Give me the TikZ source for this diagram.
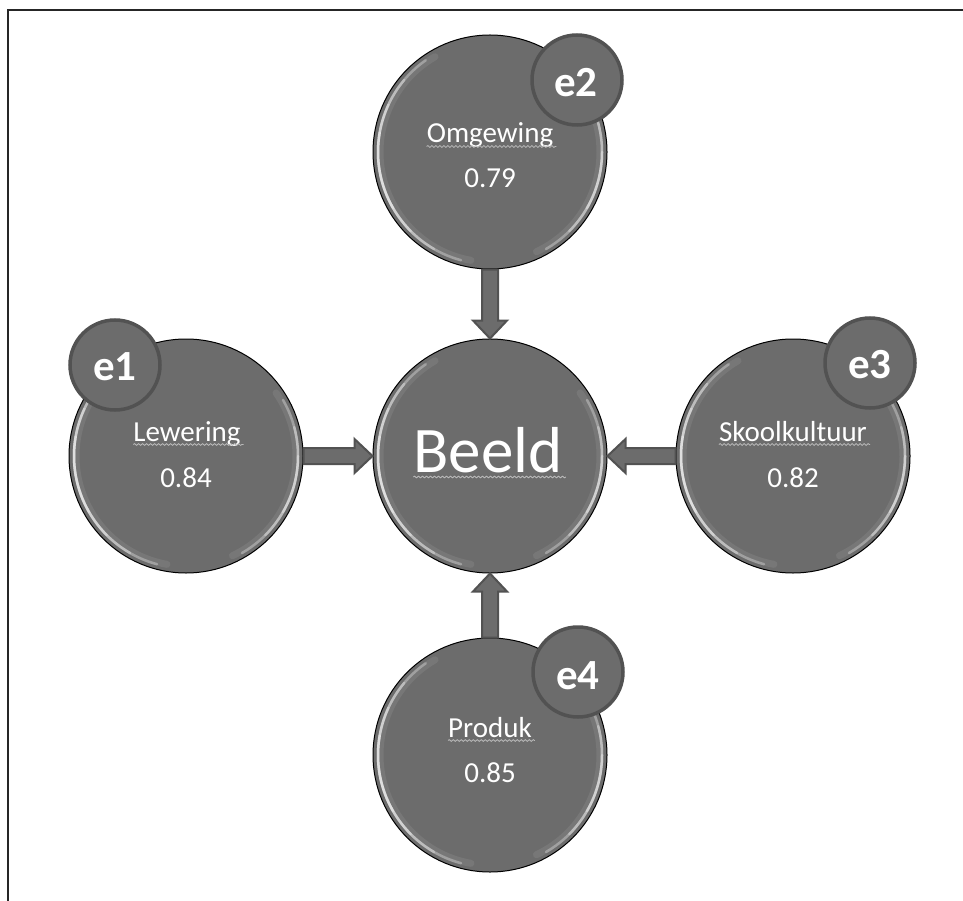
\documentclass[tikz,border=0pt]{standalone}
\usepackage{fontspec}
\setmainfont{Carlito}
\usetikzlibrary{calc,decorations.pathmorphing}
\definecolor{cfill}{RGB}{108,108,108}
\definecolor{cedge}{RGB}{82,82,82}
\definecolor{squig}{RGB}{185,185,185}
\tikzset{
  bigcirc/.style={circle, draw=black, line width=1pt, fill=cfill, minimum size=234pt, inner sep=0pt},
  ecirc/.style={circle, draw=cedge, line width=3.5pt, fill=cfill, minimum size=90pt, inner sep=0pt},
  elabel/.style={text=white, font=\bfseries\fontsize{43}{43}\selectfont, anchor=base, inner sep=0pt},
  lbl/.style={text=white, font=\fontsize{29}{29}\selectfont, anchor=base, inner sep=0pt},
  bigl/.style={text=white, font=\fontsize{65}{65}\selectfont, anchor=base, inner sep=0pt},
  arr/.style={fill=cfill, draw=cedge, line width=2pt, line join=miter},
  hl/.style={white, line width=2.5pt, opacity=0.3, line cap=round},
  hlw/.style={white, line width=7pt, opacity=0.08, line cap=round},
  squiggle/.style={squig, line width=0.8pt, decorate, decoration={snake, segment length=4pt, amplitude=0.9pt}}
}
\begin{document}
\begin{tikzpicture}[x=1pt,y=-1pt]
\useasboundingbox (0,0) rectangle (963,901);
\fill[white] (0,0) rectangle (963,901);
\draw[line width=1.3pt, black!85] (8,901) -- (8,10) -- (963,10);

% big circles
\node[bigcirc] (beeld) at (490,456) {};
\node[bigcirc] (om) at (490,152) {};
\node[bigcirc] (lew) at (186,456) {};
\node[bigcirc] (sk) at (793,456) {};
\node[bigcirc] (prod) at (490,755) {};

% glossy highlights (coordinate angles are mirrored: visual theta -> -theta)
\foreach \n in {beeld,om,lew,sk,prod}{
  \draw[hlw] ($(\n.center)+(-120:110)$) arc[start angle=-120, end angle=-260, radius=110];
  \foreach \a/\b in {-125/-255,-140/-240,-155/-225,-170/-210}{
    \draw[hl] ($(\n.center)+(\a:112)$) arc[start angle=\a, end angle=\b, radius=112];
  }
  \draw[hlw] ($(\n.center)+(-35:110)$) arc[start angle=-35, end angle=65, radius=110];
  \foreach \a/\b in {-30/60,-15/45,0/30}{
    \draw[hl] ($(\n.center)+(\a:112)$) arc[start angle=\a, end angle=\b, radius=112];
  }
}

% block arrows
\draw[arr] let \p1=(lew.east), \p2=(beeld.west) in
  (\x1,\y2+8) -- (\x2-18,\y2+8) -- (\x2-18,\y2+17) -- (\x2,\y2)
  -- (\x2-18,\y2-17) -- (\x2-18,\y2-8) -- (\x1,\y2-8) -- cycle;
\draw[arr] let \p1=(sk.west), \p2=(beeld.east) in
  (\x1,\y2+8) -- (\x2+18,\y2+8) -- (\x2+18,\y2+17) -- (\x2,\y2)
  -- (\x2+18,\y2-17) -- (\x2+18,\y2-8) -- (\x1,\y2-8) -- cycle;
\draw[arr] let \p1=(om.south), \p2=(beeld.north) in
  (\x2-8,\y1) -- (\x2-8,\y2+18) -- (\x2-17,\y2+18) -- (\x2,\y2)
  -- (\x2+17,\y2+18) -- (\x2+8,\y2+18) -- (\x2+8,\y1) -- cycle;
\draw[arr] let \p1=(prod.north), \p2=(beeld.south) in
  (\x2-8,\y1) -- (\x2-8,\y2-18) -- (\x2-17,\y2-18) -- (\x2,\y2)
  -- (\x2+17,\y2-18) -- (\x2+8,\y2-18) -- (\x2+8,\y1) -- cycle;

% error circles
\node[ecirc] (e1) at (115,365) {};
\node[ecirc] (e2) at (577,80) {};
\node[ecirc] (e3) at (870,363) {};
\node[ecirc] (e4) at (578,672) {};
\node[elabel] (te1) at (115,380) {e1};
\node[elabel] (te2) at (576,97) {e2};
\node[elabel] (te3) at (870,378) {e3};
\node[elabel] (te4) at (578,689) {e4};

% texts
\node[bigl] (tb) at (488,472) {Beeld};
\node[lbl] (to) at (490,143) {Omgewing};
\node[lbl] (vo) at (490,188) {0.79};
\node[lbl] (tl) at (187,441) {Lewering};
\node[lbl] (vl) at (186,487) {0.84};
\node[lbl] (ts) at (793,441) {Skoolkultuur};
\node[lbl] (vs) at (793,487) {0.82};
\node[lbl] (tp) at (490,737) {Produk};
\node[lbl] (vp) at (490,782) {0.85};

% spell-check squiggles
\foreach \t in {to,tl,ts,tp}{
  \draw[squiggle] ($(\t.base west)+(0,3.5)$) -- ($(\t.base east)+(3,3.5)$);
}
\draw[squiggle] ($(tb.base west)+(0,5)$) -- ($(tb.base east)+(3,5)$);
\end{tikzpicture}
\end{document}
